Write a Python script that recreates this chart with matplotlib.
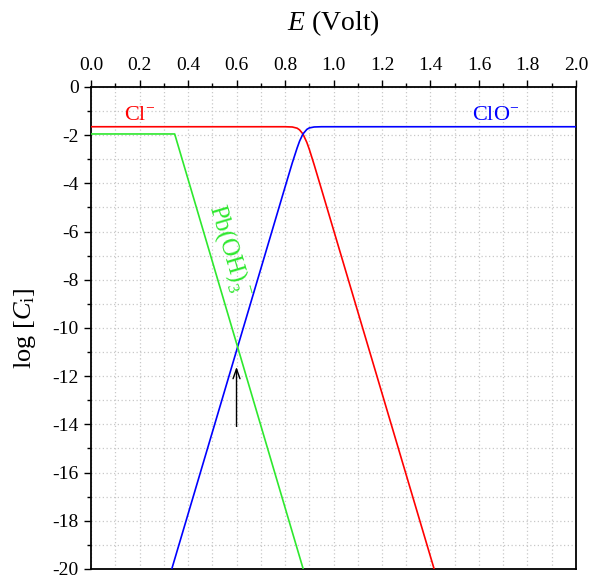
import matplotlib
matplotlib.use("Agg")
import matplotlib.pyplot as plt
from matplotlib.ticker import MultipleLocator, FormatStrFormatter

plt.rcParams['font.family'] = ['Liberation Serif', 'DejaVu Serif']
plt.rcParams['mathtext.fontset'] = 'custom'
plt.rcParams['mathtext.rm'] = 'Liberation Serif'
plt.rcParams['mathtext.it'] = 'Liberation Serif:italic'

# Data
E_cl = [0.0, 0.80, 0.83, 0.85, 0.86, 0.874, 0.89, 0.90, 0.92, 0.95, 1.415]
log_cl = [-1.65, -1.65, -1.66, -1.71, -1.78, -1.95, -2.30, -2.58, -3.22, -4.23, -20.0]

E_clo = [0.333, 0.80, 0.83, 0.85, 0.86, 0.874, 0.89, 0.90, 0.92, 0.95, 2.0]
log_clo = [-20.0, -4.16, -3.15, -2.53, -2.25, -1.95, -1.76, -1.70, -1.66, -1.65, -1.65]

E_pb = [0.0, 0.345, 0.875]
log_pb = [-1.95, -1.95, -20.0]

arrow_E = 0.6
arrow_from = -14.2
arrow_to = -11.5

fig = plt.figure(figsize=(5.93, 5.76), dpi=100)
ax = fig.add_axes([0.1535, 0.0122, 0.8178, 0.8368])

ax.plot(E_cl, log_cl, color='#ff0000', lw=1.2, zorder=3)
ax.plot(E_clo, log_clo, color='#0000ff', lw=1.2, zorder=3)
ax.plot(E_pb, log_pb, color='#2ee82e', lw=1.2, zorder=3)

ax.annotate('', xy=(arrow_E, arrow_to), xytext=(arrow_E, arrow_from),
            arrowprops=dict(arrowstyle='->,head_length=0.7,head_width=0.25', color='black', lw=1.0))

ax.text(0.136, -1.36, 'Cl$^{-}$', color='#ff0000', fontsize=16, ha='left', va='baseline')
ax.text(1.57, -1.36, 'ClO$^{-}$', color='#0000ff', fontsize=16, ha='left', va='baseline')
ax.text(0.57, -6.8, 'Pb(OH)$_3^{\\,-}$', color='#2ee82e', fontsize=18, ha='center', va='center',
        rotation=-73.5, rotation_mode='anchor')

ax.set_xlim(0, 2.0)
ax.set_ylim(-20, 0)

ax.xaxis.set_ticks_position('top')
ax.xaxis.set_label_position('top')
ax.xaxis.set_major_locator(MultipleLocator(0.2))
ax.xaxis.set_minor_locator(MultipleLocator(0.1))
ax.xaxis.set_major_formatter(FormatStrFormatter('%.1f'))
ax.yaxis.set_major_locator(MultipleLocator(2))
ax.yaxis.set_minor_locator(MultipleLocator(1))
ax.yaxis.set_major_formatter(FormatStrFormatter('%d'))

ax.tick_params(which='major', direction='out', length=5, width=1.0, labelsize=14, pad=4)
ax.tick_params(which='minor', direction='out', length=3, width=1.0)

ax.grid(which='both', color='#c8c8c8', linestyle=(0, (1, 2)), linewidth=0.9, zorder=0)
ax.set_axisbelow(True)

for s in ax.spines.values():
    s.set_linewidth(1.3)
    s.set_color('black')

ax.set_xlabel('$E$ (Volt)', fontsize=20, labelpad=20)
ax.set_ylabel('log [$C_\\mathrm{i}$]', fontsize=19, labelpad=10)

fig.savefig('out.png', dpi=100)
